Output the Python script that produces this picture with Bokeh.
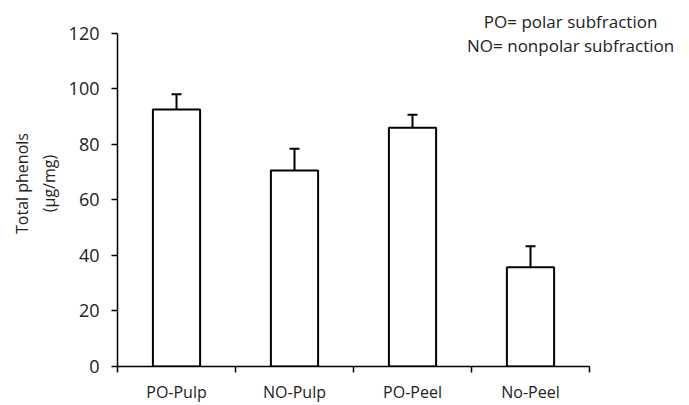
from bokeh.plotting import figure
from bokeh.models import ColumnDataSource, FixedTicker, Whisker, TeeHead, Label, Range1d
from bokeh.embed import file_html
from bokeh.resources import INLINE

categories = ["PO-Pulp", "NO-Pulp", "PO-Peel", "No-Peel"]
values = [92.5, 70.5, 85.9, 35.7]
err_upper = [98.0, 78.4, 90.6, 43.3]
err_lower = [91.5, 69.5, 84.7, 34.7]
y_ticks = [0, 20, 40, 60, 80, 100, 120]
notes = ["PO= polar subfraction", "NO= nonpolar subfraction"]

FONT = "Open Sans"
n = len(categories)
xs = [i + 0.5 for i in range(n)]
src = ColumnDataSource(dict(x=xs, top=values, upper=err_upper, lower=err_lower))

# frame spans to the right/top edges so the note text is not clipped;
# axis bounds keep the axis lines at the chart extent
p = figure(width=689, height=405, output_backend="svg", toolbar_location=None,
           x_range=Range1d(0, n * 572 / 472), y_range=Range1d(0, 120 * 371 / 338),
           min_border_left=117, min_border_right=0, min_border_top=0, min_border_bottom=34)
p.outline_line_color = None
p.grid.visible = False

p.vbar(x="x", top="top", width=0.4, bottom=0, source=src,
       fill_color="white", line_color="black", line_width=2)

w = Whisker(base="x", upper="upper", lower="lower", source=src, line_color="black", line_width=2,
            upper_head=TeeHead(size=10, line_color="black", line_width=2),
            lower_head=TeeHead(size=10, line_color="black", line_width=2))
p.add_layout(w)

xt = FixedTicker(ticks=xs, minor_ticks=list(range(n + 1)))
p.xaxis.ticker = xt
p.xaxis.bounds = (0, n)
p.xaxis.major_label_overrides = {x: c for x, c in zip(xs, categories)}
p.xaxis.major_tick_out = 0
p.xaxis.major_tick_in = 0
p.xaxis.minor_tick_out = 6
p.xaxis.minor_tick_in = 0
p.xaxis.minor_tick_line_color = "black"
p.xaxis.minor_tick_line_width = 1.5
p.xaxis.axis_line_width = 1.5
p.xaxis.axis_line_color = "black"
p.xaxis.major_label_text_font = FONT
p.xaxis.major_label_text_font_size = "16px"
p.xaxis.major_label_text_color = "#222222"
p.xaxis.major_label_standoff = 8

p.yaxis.ticker = FixedTicker(ticks=y_ticks)
p.yaxis.bounds = (0, 120)
p.yaxis.major_tick_out = 6
p.yaxis.major_tick_in = 0
p.yaxis.minor_tick_line_color = None
p.yaxis.major_tick_line_width = 1.5
p.yaxis.major_tick_line_color = "black"
p.yaxis.axis_line_width = 1.5
p.yaxis.axis_line_color = "black"
p.yaxis.major_label_text_font = FONT
p.yaxis.major_label_text_font_size = "18px"
p.yaxis.major_label_text_color = "#222222"
p.yaxis.major_label_standoff = 12
p.yaxis.axis_label = "Total phenols\n(\u00b5g/mg)"
p.yaxis.axis_label_text_font = FONT
p.yaxis.axis_label_text_font_style = "normal"
p.yaxis.axis_label_text_font_size = "16px"
p.yaxis.axis_label_text_color = "#222222"
p.yaxis.axis_label_standoff = 6

for txt, yv in zip(notes, [124.2, 115.6]):
    p.add_layout(Label(x=3.84, y=yv, text=txt, text_align="center", text_baseline="middle",
                       text_font=FONT, text_font_size="17px", text_color="#222222"))

open("out.html", "w").write(file_html(p, INLINE))
